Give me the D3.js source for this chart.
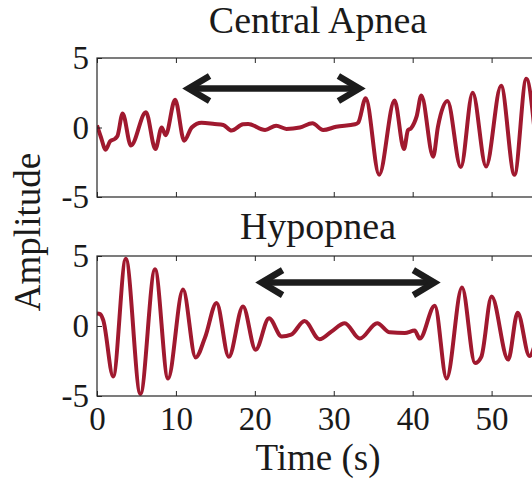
<!DOCTYPE html>
<html>
<head>
<meta charset="utf-8">
<script src="https://cdn.jsdelivr.net/npm/d3@7"></script>
<style>
  html, body { margin: 0; padding: 0; background: #fff; }
  svg { display: block; }
</style>
</head>
<body>
<svg id="chart" width="532" height="481"></svg>
<script>
// ---- data (time in s, amplitude) ----
const panelTitles = ["Central Apnea", "Hypopnea"];
const xTicks = [0, 10, 20, 30, 40, 50];
const yTicks = [-5, 0, 5];
const yTickLabels = ["-5", "0", "5"];
const xLabel = "Time (s)";
const yLabel = "Amplitude";

const centralTime = [0.0, 0.5, 1.1, 1.65, 2.3, 2.6, 3.25, 4.3, 6.2, 7.4, 8.2, 8.7, 9.9, 11.05, 12.0, 13.25, 14.9, 16.0, 17.05, 18.5, 19.15, 21.3, 22.7, 24.0, 25.7, 27.3, 28.65, 30.3, 32.7, 33.1, 34.05, 35.75, 37.7, 38.9, 39.4, 39.8, 40.5, 41.1, 42.6, 43.2, 44.4, 46.1, 47.6, 49.3, 51.2, 52.9, 54.4, 55.5];
const centralAmp  = [0.15, -0.7, -1.6, -1.0, -0.8, -0.6, 1.0, -1.3, 1.1, -1.55, 0.0, -0.55, 2.0, -0.95, 0.0, 0.35, 0.25, 0.18, -0.22, 0.23, 0.25, -0.18, 0.13, -0.1, 0.0, 0.3, -0.18, 0.05, 0.23, 0.35, 2.1, -3.4, 1.95, -1.55, -0.2, -0.05, 0.8, 2.3, -2.1, 0.05, 1.9, -2.85, 2.5, -2.8, 3.0, -3.4, 3.5, -0.5];

const hypoTime = [0.0, 0.4, 0.8, 2.05, 3.65, 5.5, 7.35, 9.0, 10.9, 12.5, 13.7, 15.15, 16.7, 18.5, 20.1, 21.8, 23.4, 24.6, 26.3, 28.2, 29.7, 31.4, 33.3, 35.5, 37.1, 39.0, 40.25, 40.9, 42.8, 44.3, 46.25, 47.9, 48.7, 50.0, 52.1, 53.3, 54.8, 55.5];
const hypoAmp  = [0.9, 0.85, 0.4, -3.6, 4.8, -4.85, 4.05, -3.75, 2.6, -2.25, -0.8, 1.65, -2.2, 1.4, -1.7, 0.55, -0.75, -0.62, 0.35, -0.95, -0.4, 0.2, -0.9, 0.2, -0.45, -0.5, -0.33, -0.9, 1.45, -3.75, 2.75, -2.65, -2.2, 2.1, -2.4, 0.95, -2.15, -1.3];

// double-headed arrow annotations: [tStart, tEnd, amplitude]
const arrowStart = [11.35, 20.6];
const arrowEnd   = [33.5, 43.0];
const arrowLevel = [2.8, 3.1];

// ---- layout ----
const svg = d3.select("#chart");
const font = "'Liberation Serif', 'Times New Roman', serif";
const left = 97, right = 535;
const panels = [
  { top: 58, bottom: 197, t: centralTime, v: centralAmp, title: panelTitles[0], titleY: 33, xLabels: false },
  { top: 256, bottom: 396, t: hypoTime, v: hypoAmp, title: panelTitles[1], titleY: 239, xLabels: true }
];
const lineColor = "#a0192f";
const axisColor = "#262626";

const x = d3.scaleLinear().domain([0, 55.5]).range([left, right]);

panels.forEach((p, i) => {
  const y = d3.scaleLinear().domain([-5, 5]).range([p.bottom, p.top]);
  const g = svg.append("g");

  // clip
  const clipId = "clip" + i;
  svg.append("clipPath").attr("id", clipId)
    .append("rect").attr("x", left).attr("y", p.top).attr("width", right - left).attr("height", p.bottom - p.top);

  // signal
  const pts = p.t.map((t, k) => [t, p.v[k]]);
  g.append("path")
    .datum(pts)
    .attr("clip-path", `url(#${clipId})`)
    .attr("fill", "none")
    .attr("stroke", lineColor)
    .attr("stroke-width", 4)
    .attr("stroke-linejoin", "round")
    .attr("d", d3.line().x(d => x(d[0])).y(d => y(d[1])).curve(d3.curveMonotoneX));

  // arrow
  const ax0 = x(arrowStart[i]), ax1 = x(arrowEnd[i]), ay = y(arrowLevel[i]);
  const ag = g.append("g").attr("stroke", "#1c1c1c").attr("fill", "none")
    .attr("stroke-width", 6.5).attr("stroke-linejoin", "miter");
  ag.append("line").attr("x1", ax0 + 3).attr("x2", ax1 - 3).attr("y1", ay).attr("y2", ay);
  ag.append("path").attr("d", `M${ax0 + 23},${ay - 12.5}L${ax0 + 2},${ay}L${ax0 + 23},${ay + 12.5}`);
  ag.append("path").attr("d", `M${ax1 - 23},${ay - 12.5}L${ax1 - 2},${ay}L${ax1 - 23},${ay + 12.5}`);

  // axes
  const xb = d3.axisBottom(x).tickValues(xTicks).tickSizeInner(-5).tickSizeOuter(0).tickPadding(11)
    .tickFormat(p.xLabels ? d3.format("d") : "");
  const xt = d3.axisTop(x).tickValues(xTicks).tickSizeInner(-5).tickSizeOuter(0).tickFormat("");
  const yl = d3.axisLeft(y).tickValues(yTicks).tickSizeInner(-5).tickSizeOuter(0).tickPadding(8)
    .tickFormat((d, k) => yTickLabels[k]);

  [ [xb, `translate(0,${p.bottom})`], [xt, `translate(0,${p.top})`], [yl, `translate(${left},0)`] ].forEach(([ax, tr]) => {
    const a = g.append("g").attr("transform", tr).call(ax);
    a.select(".domain").remove();
    a.selectAll("line").attr("stroke", axisColor).attr("stroke-width", 1);
    a.selectAll("text").attr("fill", "#1a1a1a").style("font-family", font).style("font-size", "33px");
  });

  // box (left, top, bottom; right edge off-canvas)
  g.append("rect").attr("x", left).attr("y", p.top).attr("width", right - left).attr("height", p.bottom - p.top)
    .attr("fill", "none").attr("stroke", axisColor).attr("stroke-width", 1.2);

  // title
  svg.append("text").attr("x", (left + right) / 2 + 2).attr("y", p.titleY)
    .attr("text-anchor", "middle").attr("fill", "#1a1a1a")
    .style("font-family", font).style("font-size", "38px").text(p.title);
});

// x label
svg.append("text").attr("x", (left + right) / 2 + 2).attr("y", 470)
  .attr("text-anchor", "middle").attr("fill", "#1a1a1a")
  .style("font-family", font).style("font-size", "37px").text(xLabel);

// y label
svg.append("text").attr("transform", "translate(40,232) rotate(-90)")
  .attr("text-anchor", "middle").attr("fill", "#1a1a1a")
  .style("font-family", font).style("font-size", "37px").text(yLabel);
</script>
</body>
</html>
